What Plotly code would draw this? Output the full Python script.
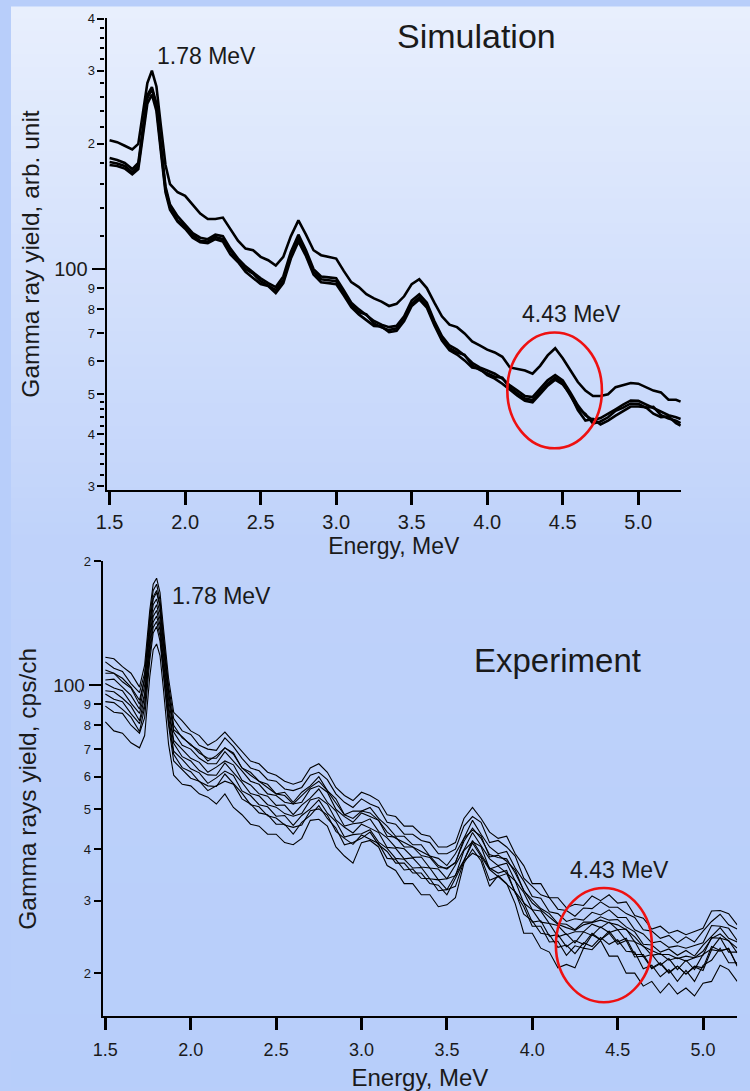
import math
import plotly.graph_objects as go

# ---------------- data ----------------
sim_energy = [1.50, 1.55, 1.60, 1.65, 1.69, 1.72, 1.75, 1.78, 1.81, 1.84, 1.87, 1.90,
              1.95, 2.00, 2.05, 2.10, 2.15, 2.20, 2.25, 2.30, 2.35, 2.40,
              2.45, 2.50, 2.55, 2.60, 2.65, 2.70, 2.75, 2.80, 2.85, 2.90,
              2.95, 3.00, 3.05, 3.10, 3.15, 3.20, 3.25, 3.30, 3.35, 3.40,
              3.45, 3.50, 3.55, 3.60, 3.65, 3.70, 3.75, 3.80, 3.85, 3.90,
              3.95, 4.00, 4.05, 4.10, 4.15, 4.20, 4.25, 4.30, 4.35, 4.40,
              4.45, 4.50, 4.55, 4.60, 4.65, 4.70, 4.75, 4.80, 4.85, 4.90,
              4.95, 5.00, 5.05, 5.10, 5.15, 5.20, 5.25, 5.28]

sim_upper = [204, 202, 198, 194, 200, 235, 280, 300, 275, 220, 178, 160,
             153, 150, 143, 136, 132, 132, 133, 125, 117, 112,
             111, 107, 105, 102, 107, 120, 131, 121, 111, 108,
             107, 106, 99, 93, 90.5, 87, 85, 83.5, 81.5, 82.5,
             86, 92, 94.5, 90, 83, 77, 73.5, 72.5, 70, 67,
             65.5, 64, 63, 61.5, 58, 57.5, 57, 56, 58.5, 62,
             64.5, 61, 57, 53.5, 51, 49.5, 49.5, 50, 52, 52.5,
             53.2, 53, 52, 51, 50.5, 48.5, 48.5, 48]

sim_lower_a = [185, 183, 180, 174, 180, 215, 262, 274, 250, 198, 158, 143,
               134, 128, 122, 119, 118, 121, 120, 112, 106, 101.5,
               98, 95, 92.5, 90.5, 96, 110, 121, 111, 100, 96,
               95.5, 95, 89, 83, 80, 77.5, 75, 73.5, 72.5, 73,
               77, 84, 87, 83, 75, 69, 65.5, 64, 62, 59.5,
               58, 57, 56, 54.5, 52.5, 51, 49.5, 49.2, 51.5, 54,
               55.6, 54, 50.5, 47, 44.5, 43.3, 43.8, 44.8, 46, 47.2,
               48.3, 48.2, 47.2, 46.3, 45.3, 44.5, 44, 43.6]

sim_lower_b = [181, 179.5, 177, 171, 177, 212, 258, 271, 247, 195, 156, 141,
               131, 126.5, 120.5, 117, 116.5, 119.5, 118, 111, 104.5, 100,
               97.5, 93.5, 91, 89, 94, 108, 118.5, 109, 98.5, 94.5,
               94, 93.5, 87.5, 82, 78.8, 77.8, 74, 72.4, 71.3, 72,
               76, 82.5, 85.5, 81.6, 74, 68, 64.5, 63, 62.2, 58.7,
               57.2, 56.2, 55.1, 54.8, 51.8, 50.2, 48.8, 48.4, 50.6, 53,
               54.8, 53.2, 49.6, 46.2, 44.8, 42.5, 43, 44, 45.6, 46.4,
               47.5, 47.4, 46.4, 46.6, 44.5, 43.7, 43.2, 42.6]

sim_lower_c = [178, 177, 174.5, 169, 174, 206, 250, 263, 240, 191, 153, 139,
               130, 125, 119, 116, 115.5, 118, 116.5, 108.5, 104, 98.5,
               95, 92, 91, 87.5, 92.5, 106, 116.5, 107.5, 97, 93,
               92.5, 92, 86.5, 81, 77.8, 75.3, 73, 72.8, 70.5, 71,
               75, 81.5, 84.5, 80.8, 73.3, 67.3, 63.8, 62.3, 60.3, 58,
               57.6, 55.6, 54.5, 53, 51.2, 49.6, 48.2, 47.8, 50, 52.4,
               54.2, 52.8, 50, 45.8, 43.2, 43.6, 42.3, 43.2, 44.4, 45.6,
               46.7, 46.7, 46.5, 44.9, 44, 44.2, 42.6, 42]

exp_energy = [1.50, 1.55, 1.60, 1.65, 1.70, 1.73, 1.76, 1.78, 1.80, 1.82, 1.84, 1.87, 1.90,
              1.95, 2.00, 2.05, 2.10, 2.15, 2.20, 2.25, 2.30, 2.35, 2.40,
              2.45, 2.50, 2.55, 2.60, 2.65, 2.70, 2.75, 2.80, 2.85, 2.90,
              2.95, 3.00, 3.05, 3.10, 3.15, 3.20, 3.25, 3.30, 3.35, 3.40,
              3.45, 3.50, 3.55, 3.60, 3.65, 3.70, 3.75, 3.80, 3.85, 3.90,
              3.95, 4.00, 4.05, 4.10, 4.15, 4.20, 4.25, 4.30, 4.35, 4.40,
              4.45, 4.50, 4.55, 4.60, 4.65, 4.70, 4.75, 4.80, 4.85, 4.90,
              4.95, 5.00, 5.05, 5.10, 5.15, 5.20]

exp_run_01 = [117, 116, 111, 107, 99, 112, 152, 176, 182, 168, 138, 104, 86,
              82, 77.5, 75.5, 71.5, 73.5, 77, 73, 69.5, 65.5, 64.5,
              61.5, 60.5, 58.5, 57.5, 58.5, 63, 64.5, 61.5, 56.5, 54,
              52.5, 55, 54, 52.5, 48.5, 48, 45.5, 45.5, 43.5, 43,
              40.5, 40.5, 41.5, 47.5, 50.5, 47.5, 44, 42.5, 43, 39,
              36.5, 33, 33, 30.5, 30.5, 28.8, 29.4, 29.2, 30.8, 30,
              31, 29.6, 29.8, 27.6, 27.2, 25.6, 26, 25, 25.4, 24.8,
              25.3, 25.7, 28.3, 28.4, 27.9, 26.2]
exp_run_02 = [114, 110, 108, 101, 96, 107, 147, 170, 176, 161, 133, 100, 83,
              77.5, 76, 71.5, 70, 69.5, 74.5, 71, 66.5, 63, 62,
              59, 58.5, 56, 55.5, 56.5, 60.5, 61.5, 59, 54.5, 52,
              50.5, 53, 51.5, 50.5, 46.5, 46, 43.5, 43.5, 42, 41.5,
              39, 39, 40, 45.5, 48, 46.5, 41.5, 42, 40.5, 38.5,
              34, 32.5, 31, 30.5, 28.6, 28.4, 27.5, 28.8, 28.7, 29.8,
              28.9, 28.9, 27.9, 27.3, 25.5, 25.3, 24.3, 24.7, 23.7, 24.5,
              23.8, 25.3, 26.7, 27.8, 26.2, 25.6]
exp_run_03 = [107, 107, 102, 98.5, 90, 104, 140, 162, 168, 155, 127, 96, 78,
              75, 71.5, 69.5, 65.5, 67.5, 70.5, 68.5, 63, 61.5, 58.5,
              57.5, 54.5, 55, 52, 55, 57, 60, 55.5, 53, 48.5,
              49.5, 49.5, 50.5, 47.5, 45.5, 43, 43, 41, 41, 38.5,
              38, 36.5, 39, 42.5, 47, 43.5, 40.5, 39, 39.5, 36,
              33.5, 30.7, 30.4, 28.2, 27.9, 26.7, 27.1, 26.9, 28.1, 27.7,
              28.5, 27.3, 27.3, 25.5, 24.9, 23.7, 23.9, 23.1, 23.3, 23,
              23.3, 23.7, 26.1, 26, 25.7, 24]
exp_run_04 = [103, 103.5, 99, 94.5, 87.5, 100, 135, 157, 162, 150, 123, 92.5, 77,
              71.5, 70, 66.5, 64.5, 64.5, 69, 65.5, 62, 58.5, 57.5,
              54.5, 54, 52, 51.5, 52, 56, 57, 55, 50, 48,
              46.5, 49, 48, 47, 43, 42.8, 40.5, 40.5, 38.6, 38.2,
              36.1, 36, 37, 42.5, 44.5, 43.1, 38.3, 38.7, 37.4, 35.6,
              31.7, 30.1, 28.7, 27.9, 26.4, 26.3, 25.5, 26.6, 26.6, 27.4,
              26.9, 27, 25.9, 25.2, 23.5, 23.4, 22.5, 22.9, 22.1, 22.7,
              22, 23.4, 24.6, 25.8, 24.3, 23.8]
exp_run_05 = [101, 98.5, 97, 90.5, 85.5, 95.5, 131, 151, 157, 144.5, 119, 89.5, 73.5,
              70, 66.5, 65, 61.5, 63.3, 65.5, 64.1, 58.8, 57.3, 54.5,
              53.8, 51.1, 51.2, 48.5, 51.2, 53.2, 56, 52, 49.5, 45.5,
              46.1, 46.4, 47.4, 44.2, 42.6, 40.4, 40.1, 38.2, 38.3, 36,
              35.8, 33.9, 36.6, 39.9, 43.9, 40.8, 37.9, 36.5, 37, 33.5,
              31.4, 28.5, 28.3, 26.4, 26.1, 24.8, 25.2, 25.2, 26.3, 25.8,
              26.6, 25.5, 25.6, 23.8, 23.3, 22.1, 22.3, 21.5, 21.8, 21.4,
              21.8, 22.1, 24.4, 24.3, 24, 22.4]
exp_run_06 = [97, 96.5, 93, 89, 82, 94, 127, 147, 152, 140, 115, 87, 72.3,
              67.1, 65.5, 62.1, 60.6, 60.5, 64.8, 61.3, 58.1, 54.6, 53.9,
              51.3, 50.6, 48.8, 48.1, 48.8, 52.7, 53.4, 51.5, 47.1, 45.2,
              43.8, 46, 45, 43.9, 40.4, 40.2, 37.9, 38.1, 36.2, 36,
              33.7, 33.9, 34.5, 39.7, 41.7, 40.6, 35.8, 36.4, 35, 33.5,
              29.6, 28.5, 26.6, 26.4, 24.5, 24.9, 23.7, 25.2, 24.7, 25.9,
              25.1, 25.5, 24, 23.9, 21.9, 22.2, 20.9, 21.7, 20.4, 21.5,
              20.4, 22.2, 22.9, 24.4, 22.5, 22.5]
exp_run_07 = [95.3, 92.5, 91.2, 85.4, 80.7, 90.2, 123, 142.6, 147.4, 136, 111.8, 84.2, 69.2,
              66.1, 62.7, 61.3, 57.8, 59.6, 61.9, 60.4, 55.4, 54, 51.3,
              50.7, 48.1, 48.3, 45.7, 48.3, 50.1, 52.7, 48.9, 46.7, 42.8,
              43.4, 43.6, 44.6, 41.6, 40.2, 38, 37.8, 36, 36.1, 33.9,
              33.7, 31.9, 34.5, 37.6, 41.4, 38.4, 35.7, 34.3, 34.9, 31.5,
              29.7, 26.6, 26.8, 24.6, 24.8, 23.2, 24, 23.5, 25, 24.1,
              25.3, 23.8, 24.3, 22.2, 22.2, 20.6, 21.2, 20.1, 20.8, 19.9,
              20.8, 20.6, 23.2, 22.7, 22.9, 20.9]
exp_run_08 = [91.3, 90.8, 87.4, 83.7, 77.2, 88.4, 119.3, 138.2, 142.9, 131.9, 108.3, 81.6, 68,
              63.1, 61.7, 58.4, 57, 56.8, 60.9, 57.6, 54.7, 51.3, 50.7,
              48.2, 47.6, 45.8, 45.2, 45.8, 49.6, 50.1, 48.4, 44.2, 42.5,
              41.1, 43.3, 42.3, 41.3, 38, 37.8, 35.6, 35.8, 34, 33.9,
              31.7, 31.9, 32.5, 37.4, 39.1, 38.2, 33.6, 34.3, 32.9, 31.5,
              27.8, 26.8, 25, 24.8, 23.1, 23.4, 22.3, 23.7, 23.2, 24.4,
              23.5, 24.1, 22.6, 22.5, 20.5, 20.9, 19.6, 20.4, 19.1, 20.3,
              19.1, 20.9, 21.5, 23, 21.2, 21.2]
exp_run_09 = [89, 86, 85.5, 80, 76.5, 83.5, 115, 134, 139, 128, 106, 80, 65.5,
              62.5, 59.5, 58.5, 55.5, 57, 58.5, 57.5, 53, 51.5, 49,
              48.5, 46, 46, 43.5, 46.5, 48.3, 51, 47.5, 45, 41,
              41.5, 42.5, 44, 41, 39.5, 37, 37, 35, 35, 33,
              32.7, 31, 34, 37.5, 42, 39, 36, 35, 35.5, 31.3,
              29, 26, 26, 23.8, 23.9, 22.1, 23.3, 23, 24.8, 24.1,
              25, 23.5, 24, 21.9, 22, 20.5, 21.1, 20, 20.8, 19.9,
              20.7, 20.3, 22.8, 22.6, 23, 20.8]
exp_run_10 = [81.5, 77.5, 76.5, 72.5, 70.5, 75.5, 105, 122, 126, 118, 98, 72, 60.5,
              57.5, 57, 54.5, 53.5, 51.5, 54.5, 50.5, 48.5, 46, 45.5,
              43.5, 43.5, 41.5, 41, 42.5, 47, 47.3, 45.5, 40.5, 38.5,
              37, 41.5, 42, 40.5, 36.5, 35.5, 33, 33, 31, 31,
              29, 29.3, 30.5, 37, 40, 37.5, 32.5, 34.5, 33, 29.5,
              25, 25, 23, 22.5, 20.6, 21, 20.6, 23, 22.8, 24,
              22, 22, 20, 20, 18.6, 19.1, 17.9, 18.9, 17.8, 18.4,
              17.6, 18.9, 19.1, 20.9, 20.4, 19.1]
exp_run_11 = [109, 107, 104, 99, 92, 104, 142, 164, 170, 157, 129, 97, 80,
              74.5, 72, 68.5, 66.5, 66.5, 70.5, 68, 63, 60.5, 58.5,
              56.5, 54.5, 54, 51.5, 54, 56.5, 58.5, 55.5, 51.8, 48.5,
              47.5, 49.5, 49, 47, 44, 42.5, 41.5, 40.5, 39.5, 38.5,
              36.5, 35.8, 37.2, 41.8, 45, 42.5, 38.8, 38.2, 37.9, 35,
              31.8, 29.6, 28.5, 27.4, 26.3, 25.8, 25.4, 26.2, 26.5, 26.9,
              26.5, 26.2, 25.5, 24.5, 23.2, 22.7, 22.2, 22.2, 21.7, 22,
              21.8, 22.6, 24.3, 24.9, 23.9, 23]

x_tick_values = [1.5, 2.0, 2.5, 3.0, 3.5, 4.0, 4.5, 5.0]
x_tick_labels = ["1.5", "2.0", "2.5", "3.0", "3.5", "4.0", "4.5", "5.0"]
sim_y_ticks = [30, 40, 50, 60, 70, 80, 90, 200, 300, 400]
sim_y_labels = ["3", "4", "5", "6", "7", "8", "9", "2", "3", "4"]
sim_y_minor = [32, 34, 36, 38, 42, 44, 46, 48, 120, 140, 160, 180,
               220, 240, 260, 280, 320, 340, 360, 380]
exp_y_ticks = [20, 30, 40, 50, 60, 70, 80, 90, 200]
exp_y_labels = ["2", "3", "4", "5", "6", "7", "8", "9", "2"]
hundred_tick = [100]
hundred_label = ["100"]

sim_curves = [sim_upper, sim_lower_a, sim_lower_b, sim_lower_c]
exp_curves = [exp_run_01, exp_run_02, exp_run_03, exp_run_04, exp_run_05, exp_run_06,
              exp_run_07, exp_run_08, exp_run_09, exp_run_10, exp_run_11]

# ---------------- figure ----------------
W, H = 750, 1091
FONT = "Liberation Sans, Arial, sans-serif"
TXT = "#1a1a1a"

fig = go.Figure()
for ys in sim_curves:
    fig.add_trace(go.Scatter(x=sim_energy, y=ys, mode="lines",
                             line=dict(color="black", width=2.6),
                             xaxis="x", yaxis="y", showlegend=False,
                             hoverinfo="skip"))
for ys in exp_curves:
    fig.add_trace(go.Scatter(x=exp_energy, y=ys, mode="lines",
                             line=dict(color="black", width=1.1),
                             xaxis="x2", yaxis="y2", showlegend=False,
                             hoverinfo="skip"))
# empty traces so the overlay axes (long "100" ticks) get drawn
fig.add_trace(go.Scatter(x=[], y=[], xaxis="x", yaxis="y3", showlegend=False, hoverinfo="skip"))
fig.add_trace(go.Scatter(x=[], y=[], xaxis="x2", yaxis="y4", showlegend=False, hoverinfo="skip"))


def fx(p):
    return p / W


def fy(p):
    return 1 - p / H


common_x = dict(showline=True, linecolor="black", linewidth=2.2, ticks="outside",
                tickcolor="black", tickwidth=2.5, tickvals=x_tick_values,
                ticktext=x_tick_labels, showgrid=False, zeroline=False)
common_y = dict(type="log", showline=True, linecolor="black", linewidth=2.2,
                ticks="outside", tickcolor="black", tickwidth=2, ticklen=7,
                showgrid=False, zeroline=False,
                tickfont=dict(size=13, color=TXT, family=FONT))

sim_range = [math.log10(29.4), math.log10(402)]
exp_range = [math.log10(15.72), math.log10(200)]

fig.update_layout(
    width=W, height=H, autosize=False,
    margin=dict(l=0, r=0, t=0, b=0),
    paper_bgcolor="rgb(184,206,250)", plot_bgcolor="rgba(0,0,0,0)",
    font=dict(family=FONT, color=TXT),
    xaxis=dict(domain=[fx(97), fx(680)], range=[1.48, 5.283], anchor="y",
               ticklen=13, tickfont=dict(size=20, color=TXT, family=FONT),
               title=dict(text="Energy, MeV", font=dict(size=23, color=TXT),
                          standoff=6), **common_x),
    yaxis=dict(domain=[fy(488), fy(11)], range=sim_range, anchor="x",
               tickvals=sim_y_ticks, ticktext=sim_y_labels,
               minor=dict(tickvals=sim_y_minor, ticks="outside", ticklen=4,
                          tickwidth=1.5, tickcolor="black"),
               title=dict(text="Gamma ray yield, arb. unit",
                          font=dict(size=24.5, color=TXT), standoff=41),
               **common_y),
    yaxis3=dict(overlaying="y", anchor="x", side="left", type="log",
                range=sim_range, tickvals=hundred_tick, ticktext=hundred_label,
                ticks="outside", ticklen=14, tickwidth=2, tickcolor="black",
                tickfont=dict(size=20, color=TXT, family=FONT),
                showline=False, showgrid=False, zeroline=False),
    xaxis2=dict(domain=[fx(93), fx(737)], range=[1.484, 5.2], anchor="y2",
                ticklen=12, ticklabelstandoff=4,
                tickfont=dict(size=18, color=TXT, family=FONT),
                title=dict(text="Energy, MeV", font=dict(size=24, color=TXT),
                           standoff=10), **common_x),
    yaxis2=dict(domain=[fy(1019.5), fy(560)], range=exp_range, anchor="x2",
                tickvals=exp_y_ticks, ticktext=exp_y_labels,
                title=dict(text="Gamma rays yield, cps/ch",
                           font=dict(size=24.5, color=TXT), standoff=40),
                **common_y),
    yaxis4=dict(overlaying="y2", anchor="x2", side="left", type="log",
                range=exp_range, tickvals=hundred_tick, ticktext=hundred_label,
                ticks="outside", ticklen=13, tickwidth=2, tickcolor="black",
                tickfont=dict(size=19, color=TXT, family=FONT),
                showline=False, showgrid=False, zeroline=False),
)

# background gradient (decoration)
stops = [(0.0, (232, 239, 253)), (0.5, (191, 210, 250)), (1.0, (183, 206, 250))]
bands = 90
for i in range(bands):
    t = (i + 0.5) / bands
    for (t0, c0), (t1, c1) in zip(stops[:-1], stops[1:]):
        if t0 <= t <= t1:
            f = (t - t0) / (t1 - t0)
            col = tuple(round(a + (b - a) * f) for a, b in zip(c0, c1))
            break
    fig.add_shape(type="rect", xref="paper", yref="paper", x0=0, x1=1,
                  y0=1 - (i + 1) / bands, y1=1 - i / bands + 0.0005,
                  fillcolor="rgb(%d,%d,%d)" % col, line=dict(width=0),
                  layer="below")

# red ellipses
for cx, cy, rx, ry in [(551.7, 387.3, 48, 58.5), (601.7, 947.7, 48.7, 57.7)]:
    fig.add_shape(type="circle", xref="paper", yref="paper",
                  x0=fx(cx - rx), x1=fx(cx + rx), y0=fy(cy + ry), y1=fy(cy - ry),
                  line=dict(color="#ee1111", width=2.6), fillcolor="rgba(0,0,0,0)")

# annotations
notes = [("Simulation", 472, 29, 34), ("1.78 MeV", 198, 50, 23), ("4.43 MeV", 568.7, 310, 23),
         ("1.78 MeV", 214, 595, 23), ("Experiment", 555, 660, 33), ("4.43 MeV", 618, 872, 23)]
for text, x, y, size in notes:
    fig.add_annotation(text=text, xref="paper", yref="paper", x=fx(x), y=fy(y),
                       xanchor="center", yanchor="middle", showarrow=False,
                       font=dict(size=size, color=TXT, family=FONT))

fig.write_html("out.html")
